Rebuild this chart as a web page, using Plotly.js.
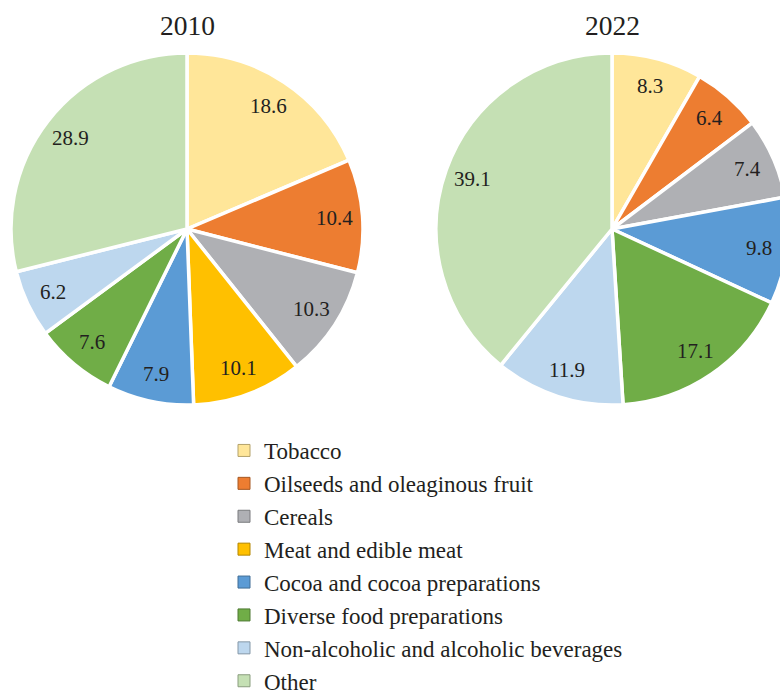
<!DOCTYPE html>
<html>
<head>
<meta charset="utf-8">
<script src="https://cdn.plot.ly/plotly-3.0.1.min.js"></script>
<style>
html,body{margin:0;padding:0;overflow:hidden;background:#fff;width:780px;height:696px;}
#chart{width:800px;height:696px;}
</style>
</head>
<body>
<div id="chart"></div>
<script>
const categories = ["Tobacco","Oilseeds and oleaginous fruit","Cereals","Meat and edible meat","Cocoa and cocoa preparations","Diverse food preparations","Non-alcoholic and alcoholic beverages","Other"];
const values2010 = [18.6, 10.4, 10.3, 10.1, 7.9, 7.6, 6.2, 28.9];
const categories2022 = ["Tobacco","Oilseeds and oleaginous fruit","Cereals","Cocoa and cocoa preparations","Diverse food preparations","Non-alcoholic and alcoholic beverages","Other"];
const values2022 = [8.3, 6.4, 7.4, 9.8, 17.1, 11.9, 39.1];
const yearTitles = ["2010", "2022"];

const palette = {
  "Tobacco":"#FFE699",
  "Oilseeds and oleaginous fruit":"#ED7D31",
  "Cereals":"#AFB0B4",
  "Meat and edible meat":"#FFC000",
  "Cocoa and cocoa preparations":"#5B9BD5",
  "Diverse food preparations":"#70AD47",
  "Non-alcoholic and alcoholic beverages":"#BDD7EE",
  "Other":"#C5E0B4"
};
function darker(hex, f){
  const n=parseInt(hex.slice(1),16);
  const r=Math.round(((n>>16)&255)*f), g=Math.round(((n>>8)&255)*f), b=Math.round((n&255)*f);
  return "rgb("+r+","+g+","+b+")";
}
const FONT = "Liberation Serif";
const TXT = "#231f20";
const W=800,H=696;
const R=176, CY=229, LABEL_R=148;
const centers=[187,612];

function pie(labels, values, cx){
  return {
    type:"pie", labels:labels, values:values, sort:false, direction:"clockwise", rotation:0,
    marker:{colors:labels.map(l=>palette[l]), line:{color:"#ffffff", width:3.5}},
    textinfo:"none", textposition:"none", showlegend:false,
    hoverinfo:"label+value",
    domain:{x:[(cx-R)/W,(cx+R)/W], y:[1-(CY+R)/H,1-(CY-R)/H]}
  };
}
// legend key: same 2010 data, drawn tiny and fully hidden beneath the 2010 pie; only supplies the legend swatches
const legendKey = {
  type:"pie", labels:categories, values:values2010, sort:false, direction:"clockwise",
  marker:{colors:categories.map(l=>palette[l]), line:{color:categories.map(l=>darker(palette[l],0.7)), width:1}},
  textinfo:"none", textposition:"none", hoverinfo:"skip", showlegend:true,
  domain:{x:[88/W,92/W], y:[1-172/H,1-168/H]}
};
// value labels placed at the mid-angle of each slice (derived from the data)
function valueLabels(values, cx){
  const total=values.reduce((a,b)=>a+b,0);
  let cum=0; const out=[];
  values.forEach(v=>{
    const mid=(cum+v/2)/total*2*Math.PI; cum+=v;
    const px=cx+LABEL_R*Math.sin(mid), py=CY-LABEL_R*Math.cos(mid);
    out.push({text:v.toFixed(1), x:px/W, y:1-py/H, xref:"paper", yref:"paper", showarrow:false,
      xanchor:"center", yanchor:"middle", font:{family:FONT,size:21,color:TXT}});
  });
  return out;
}
const data=[ legendKey, pie(categories, values2010, centers[0]), pie(categories2022, values2022, centers[1]) ];
const layout={
  width:W, height:H, margin:{l:0,r:0,t:0,b:0,autoexpand:false},
  paper_bgcolor:"#fff", plot_bgcolor:"#fff",
  font:{family:FONT, color:TXT},
  showlegend:true,
  legend:{orientation:"v", x:224/W, xanchor:"left", y:1-429/H, yanchor:"top",
          font:{family:FONT, size:23, color:TXT}, bgcolor:"rgba(0,0,0,0)", traceorder:"normal"},
  annotations:[
    {text:yearTitles[0], x:centers[0]/W, y:1-25/H, xref:"paper", yref:"paper", showarrow:false, xanchor:"center", yanchor:"middle", font:{family:FONT,size:27.5,color:TXT}},
    {text:yearTitles[1], x:centers[1]/W, y:1-25/H, xref:"paper", yref:"paper", showarrow:false, xanchor:"center", yanchor:"middle", font:{family:FONT,size:27.5,color:TXT}}
  ].concat(valueLabels(values2010, centers[0]), valueLabels(values2022, centers[1]))
};
Plotly.newPlot("chart", data, layout, {displayModeBar:false, staticPlot:true});
</script>
</body>
</html>
